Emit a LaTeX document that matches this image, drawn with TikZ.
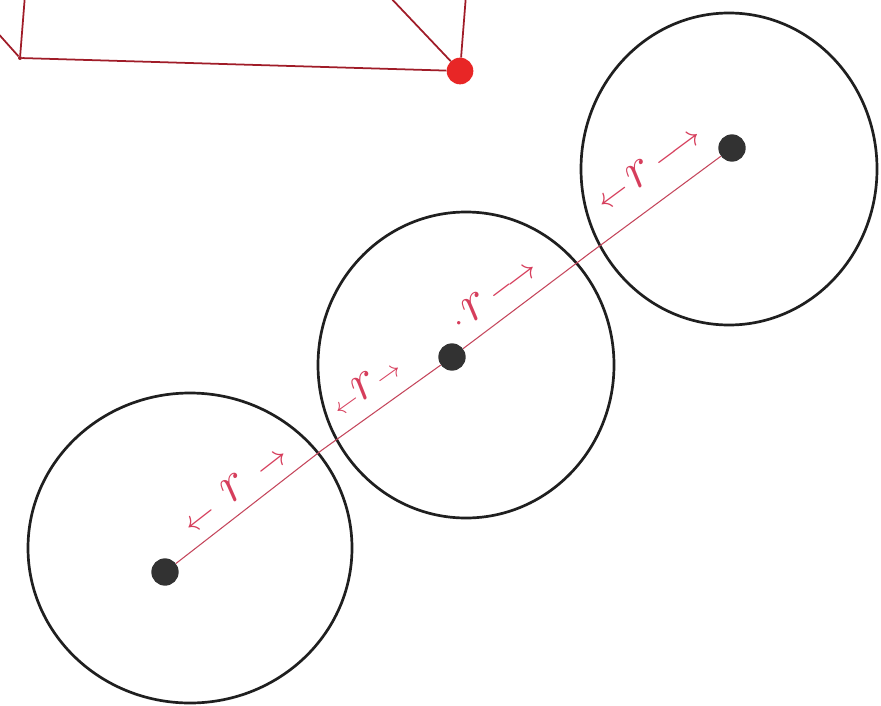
\RequirePackage{fix-cm}
\documentclass[tikz,border=0pt]{standalone}
\usetikzlibrary{positioning}
\definecolor{penred}{RGB}{160,28,40}
\definecolor{dotred}{RGB}{232,38,38}
\definecolor{inkred}{RGB}{214,62,92}
\definecolor{bondred}{RGB}{196,70,92}
\definecolor{lead}{RGB}{50,50,50}
\newcommand{\rsym}{{\fontsize{46}{46}\selectfont$r$}}
\begin{document}
\begin{tikzpicture}[x=0.03cm,y=-0.03cm,
  ring/.style={line width=2.3pt,draw=black!88},
  atom/.style={circle,fill=lead,inner sep=0pt,minimum size=0.82cm},
  edge/.style={draw=penred,line width=1.5pt},
  bond/.style={draw=bondred,line width=0.9pt},
  rtag/.style={inkred,font=\fontsize{28}{28}\selectfont,sloped,inner sep=0pt}]
\useasboundingbox (0,0) rectangle (881,705);
\clip (0,0) rectangle (881,705);
% red frame at the top
\node[circle,fill=penred,inner sep=0pt,minimum size=0.12cm] (kink) at (20,58) {};
\node[circle,fill=dotred,inner sep=0pt,minimum size=0.8cm] (vert) at (460,71) {};
\coordinate (kinkup) at (25,-5);
\coordinate (kinkleft) at (-5,30);
\coordinate (vertup) at (466,-5);
\coordinate (vertdiag) at (388,-5);
\draw[edge] (kinkleft) -- (kink) -- (kinkup);
\draw[edge] (kink) -- (vert);
\draw[edge] (vert) -- (vertup);
\draw[edge] (vert) -- (vertdiag);
% the three circles
\draw[ring] (190,548) ellipse [x radius=162,y radius=155];
\draw[ring] (466,365) ellipse [x radius=148,y radius=153];
\draw[ring] (729,169) ellipse [x radius=148,y radius=156];
\node[atom] (A) at (165,572) {};
\node[atom] (B) at (452,357) {};
\node[atom] (C) at (732,148) {};
\coordinate (t1) at (322,450);
\coordinate (t2) at (590,253);
% radii along the line of centres
\draw[bond] (A) -- (t1) node[rtag,pos=0.5,above=10pt] {$\leftarrow$\enspace\rsym\enspace$\rightarrow$}
  -- (B) node[rtag,pos=0.5,above=13pt,font=\fontsize{22}{22}\selectfont] {$\leftarrow$\rsym$\rightarrow$}
  -- (t2) node[rtag,pos=0.36,above=12pt] {$\cdot$\,\rsym\,$\longrightarrow$}
  -- (C) node[rtag,pos=0.6,above=19pt] {$\leftarrow$\,\rsym\,$\longrightarrow$};
\end{tikzpicture}
\end{document}
